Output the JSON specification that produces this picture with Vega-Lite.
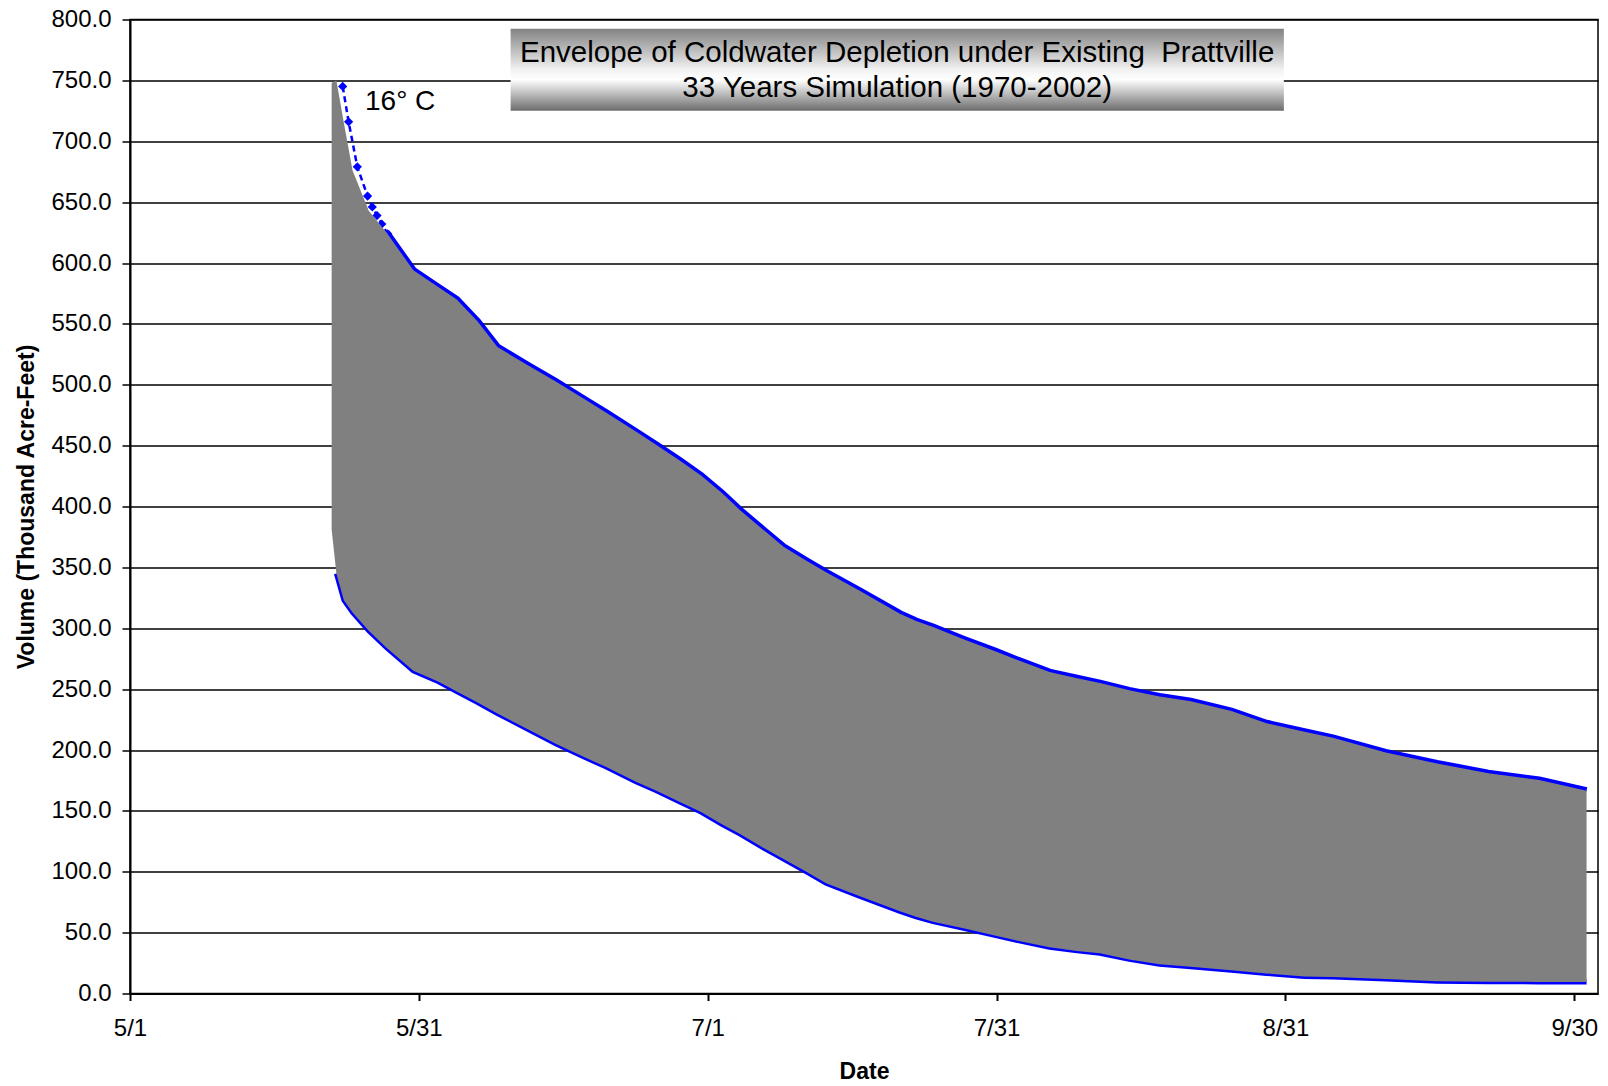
{
  "$schema": "https://vega.github.io/schema/vega-lite/v6.json",
  "width": 1468,
  "height": 974,
  "autosize": {"type": "none"},
  "padding": {"left": 130, "top": 19.5, "right": 10, "bottom": 92.5},
  "background": "white",
  "config": {
    "view": {"stroke": "black", "strokeWidth": 1.5},
    "font": "Liberation Sans",
    "axis": {"labelFont": "Liberation Sans", "titleFont": "Liberation Sans", "labelColor": "black", "titleColor": "black"}
  },
  "datasets": {
    "env": [
      {"date": "2002/05/22 07:00", "upper": 748, "lower": 381},
      {"date": "2002/05/22 19:00", "upper": 750, "lower": 345},
      {"date": "2002/05/23 14:00", "upper": 715, "lower": 323},
      {"date": "2002/05/24 12:00", "upper": 676, "lower": 313},
      {"date": "2002/05/26 05:00", "upper": 643, "lower": 298},
      {"date": "2002/05/28 02:00", "upper": 625, "lower": 284},
      {"date": "2002/05/30 22:00", "upper": 594, "lower": 265},
      {"date": "2002/06/02 14:00", "upper": 580, "lower": 256},
      {"date": "2002/06/04 12:00", "upper": 570, "lower": 248},
      {"date": "2002/06/06 17:00", "upper": 552, "lower": 239},
      {"date": "2002/06/08 19:00", "upper": 531, "lower": 230},
      {"date": "2002/06/12 00:00", "upper": 516, "lower": 217},
      {"date": "2002/06/15 00:00", "upper": 502.5, "lower": 205},
      {"date": "2002/06/18 00:00", "upper": 488, "lower": 194},
      {"date": "2002/06/20 07:00", "upper": 477, "lower": 186},
      {"date": "2002/06/23 10:00", "upper": 461.5, "lower": 174},
      {"date": "2002/06/25 14:00", "upper": 450.5, "lower": 166.5},
      {"date": "2002/06/28 00:00", "upper": 438, "lower": 157.5},
      {"date": "2002/06/30 07:00", "upper": 425.5, "lower": 149},
      {"date": "2002/07/02 12:00", "upper": 411, "lower": 139},
      {"date": "2002/07/04 10:00", "upper": 397, "lower": 131},
      {"date": "2002/07/07 00:00", "upper": 380, "lower": 119},
      {"date": "2002/07/09 00:00", "upper": 367, "lower": 110.5},
      {"date": "2002/07/11 10:00", "upper": 355.5, "lower": 100},
      {"date": "2002/07/13 12:00", "upper": 346, "lower": 90.5},
      {"date": "2002/07/17 00:00", "upper": 331, "lower": 80},
      {"date": "2002/07/21 07:00", "upper": 312, "lower": 67.5},
      {"date": "2002/07/23 00:00", "upper": 306, "lower": 63},
      {"date": "2002/07/24 19:00", "upper": 301, "lower": 59},
      {"date": "2002/07/28 00:00", "upper": 291, "lower": 53.5},
      {"date": "2002/07/31 10:00", "upper": 281, "lower": 47.5},
      {"date": "2002/08/03 00:00", "upper": 273, "lower": 43},
      {"date": "2002/08/06 02:00", "upper": 264, "lower": 38},
      {"date": "2002/08/09 00:00", "upper": 259, "lower": 35},
      {"date": "2002/08/11 10:00", "upper": 255, "lower": 33},
      {"date": "2002/08/14 12:00", "upper": 249, "lower": 28},
      {"date": "2002/08/17 17:00", "upper": 244, "lower": 24},
      {"date": "2002/08/21 00:00", "upper": 240, "lower": 22},
      {"date": "2002/08/25 07:00", "upper": 232, "lower": 19},
      {"date": "2002/08/29 00:00", "upper": 222, "lower": 16.5},
      {"date": "2002/09/02 00:00", "upper": 215, "lower": 14},
      {"date": "2002/09/05 00:00", "upper": 210, "lower": 13.5},
      {"date": "2002/09/10 14:00", "upper": 198, "lower": 12},
      {"date": "2002/09/16 00:00", "upper": 189, "lower": 10},
      {"date": "2002/09/21 10:00", "upper": 181, "lower": 9.7},
      {"date": "2002/09/26 19:00", "upper": 175.4, "lower": 9.5},
      {"date": "2002/10/01 19:00", "upper": 166.6, "lower": 9.5}
    ],
    "start": [
      {"date": "2002/05/23 11:00", "value": 745},
      {"date": "2002/05/24 02:00", "value": 716},
      {"date": "2002/05/25 00:00", "value": 679},
      {"date": "2002/05/26 02:00", "value": 655},
      {"date": "2002/05/26 14:00", "value": 646},
      {"date": "2002/05/27 02:00", "value": 639},
      {"date": "2002/05/27 14:00", "value": 632},
      {"date": "2002/05/28 05:00", "value": 624}
    ],
    "box": [
      {"date": "2002/06/10 04:30", "date2": "2002/08/30 20:00", "top": 792.4, "bottom": 725}
    ],
    "titles": [
      {"date": "2002/07/21 00:00", "value": 765.5, "label": "Envelope of Coldwater Depletion under Existing\u00a0 Prattville"},
      {"date": "2002/07/21 00:00", "value": 736.5, "label": "33 Years Simulation (1970-2002)"}
    ],
    "notes": [
      {"date": "2002/05/25 19:30", "value": 725.5, "label": "16° C"}
    ]
  },
  "encoding": {
    "x": {
      "field": "date",
      "type": "temporal",
      "scale": {"domain": [{"year": 2002, "month": 5, "date": 1}, {"year": 2002, "month": 10, "date": 3}], "nice": false},
      "axis": {
        "title": "Date",
        "values": [
          {"year": 2002, "month": 5, "date": 1},
          {"year": 2002, "month": 5, "date": 31, "hours": 12},
          {"year": 2002, "month": 7, "date": 1},
          {"year": 2002, "month": 7, "date": 31, "hours": 12},
          {"year": 2002, "month": 8, "date": 31},
          {"year": 2002, "month": 9, "date": 30, "hours": 12}
        ],
        "format": "%-m/%-d",
        "grid": false,
        "domainColor": "black",
        "domainWidth": 2,
        "tickColor": "black",
        "tickWidth": 2,
        "tickSize": 7,
        "labelFontSize": 24,
        "labelPadding": 16,
        "labelFlush": false,
        "labelOverlap": false,
        "titleFontSize": 23,
        "titleFontWeight": "bold",
        "titlePadding": 20
      }
    }
  },
  "layer": [
    {
      "data": {"name": "env", "format": {"parse": {"date": "date"}}},
      "transform": [{"filter": {"field": "date", "gte": {"year": 2002, "month": 5, "date": 27}}}],
      "mark": {"type": "line", "color": "#0000ff", "strokeWidth": 7},
      "encoding": {
        "y": {
          "field": "upper",
          "type": "quantitative",
          "scale": {"domain": [0, 800], "nice": false},
          "axis": {
            "title": "Volume (Thousand Acre-Feet)",
            "values": [0, 50, 100, 150, 200, 250, 300, 350, 400, 450, 500, 550, 600, 650, 700, 750, 800],
            "format": ".1f",
            "grid": true,
            "gridColor": "black",
            "gridWidth": 1.3,
            "gridOpacity": 1,
            "domainColor": "black",
            "domainWidth": 2,
            "tickColor": "black",
            "tickWidth": 1.5,
            "tickSize": 8,
            "labelFontSize": 24,
            "labelPadding": 11,
            "titleFontSize": 23,
            "titleFontWeight": "bold",
            "titlePadding": 12
          }
        }
      }
    },
    {
      "data": {"name": "env", "format": {"parse": {"date": "date"}}},
      "transform": [{"filter": {"field": "date", "gte": {"year": 2002, "month": 5, "date": 22, "hours": 12}}}],
      "mark": {"type": "line", "color": "#0000ff", "strokeWidth": 5},
      "encoding": {
        "y": {"field": "lower", "type": "quantitative", "title": "Volume (Thousand Acre-Feet)"}
      }
    },
    {
      "data": {"name": "start", "format": {"parse": {"date": "date"}}},
      "mark": {"type": "line", "color": "#0000ff", "strokeWidth": 2.5, "strokeDash": [6, 4]},
      "encoding": {
        "y": {"field": "value", "type": "quantitative", "title": "Volume (Thousand Acre-Feet)"}
      }
    },
    {
      "data": {"name": "start", "format": {"parse": {"date": "date"}}},
      "mark": {"type": "point", "shape": "diamond", "filled": true, "color": "#0000ff", "size": 85, "opacity": 1},
      "encoding": {
        "y": {"field": "value", "type": "quantitative", "title": "Volume (Thousand Acre-Feet)"}
      }
    },
    {
      "data": {"name": "env", "format": {"parse": {"date": "date"}}},
      "mark": {"type": "area", "color": "#808080", "opacity": 1},
      "encoding": {
        "y": {"field": "upper", "type": "quantitative", "title": "Volume (Thousand Acre-Feet)"},
        "y2": {"field": "lower"}
      }
    },
    {
      "data": {"name": "box", "format": {"parse": {"date": "date", "date2": "date"}}},
      "mark": {
        "type": "rect",
        "fill": {
          "gradient": "linear",
          "x1": 0, "y1": 0, "x2": 0, "y2": 1,
          "stops": [
            {"offset": 0, "color": "#828282"},
            {"offset": 0.5, "color": "#f2f2f2"},
            {"offset": 0.62, "color": "#ffffff"},
            {"offset": 1, "color": "#6c6c6c"}
          ]
        },
        "opacity": 1
      },
      "encoding": {
        "x2": {"field": "date2"},
        "y": {"field": "top", "type": "quantitative", "title": "Volume (Thousand Acre-Feet)"},
        "y2": {"field": "bottom"}
      }
    },
    {
      "data": {"name": "titles", "format": {"parse": {"date": "date"}}},
      "mark": {"type": "text", "font": "Liberation Sans", "fontSize": 29.5, "color": "black", "align": "center", "baseline": "alphabetic"},
      "encoding": {
        "y": {"field": "value", "type": "quantitative", "title": "Volume (Thousand Acre-Feet)"},
        "text": {"field": "label"}
      }
    },
    {
      "data": {"name": "notes", "format": {"parse": {"date": "date"}}},
      "mark": {"type": "text", "font": "Liberation Sans", "fontSize": 28, "color": "black", "align": "left", "baseline": "alphabetic"},
      "encoding": {
        "y": {"field": "value", "type": "quantitative", "title": "Volume (Thousand Acre-Feet)"},
        "text": {"field": "label"}
      }
    }
  ]
}
